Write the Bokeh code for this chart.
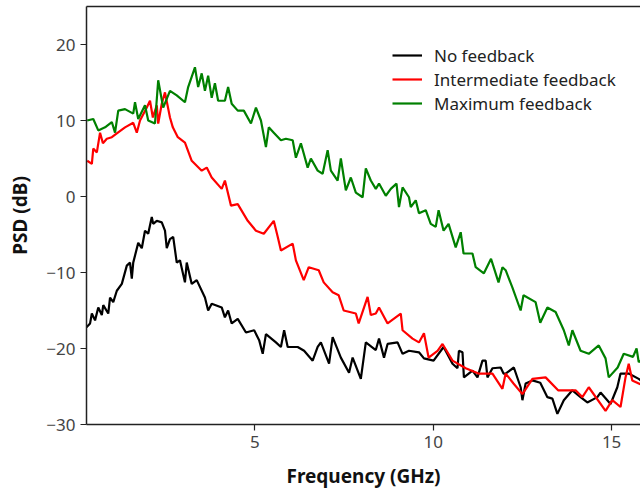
from bokeh.plotting import figure
from bokeh.models import LinearAxis, Legend, LegendItem, FixedTicker, Range1d
from bokeh.embed import file_html
from bokeh.resources import INLINE

# ---- data ----
black_x = [0.28, 0.38, 0.43, 0.52, 0.61, 0.71, 0.75, 0.89, 0.94, 1.03, 1.13, 1.27, 1.41, 1.50, 1.55, 1.59,
           1.73, 1.83, 1.92, 2.01, 2.11, 2.15, 2.25, 2.39, 2.48, 2.53, 2.62, 2.71, 2.81, 2.90, 3.04, 3.09,
           3.23, 3.37, 3.60, 3.69, 3.79, 4.07, 4.16, 4.25, 4.35, 4.52, 4.75, 4.98, 5.12, 5.22, 5.31, 5.59,
           5.73, 5.82, 5.92, 6.20, 6.38, 6.62, 6.76, 6.85, 7.08, 7.18, 7.41, 7.64, 7.74, 7.97, 8.11, 8.39,
           8.48, 8.62, 8.72, 9.00, 9.14, 9.32, 9.60, 9.74, 10.01, 10.29, 10.54, 10.68, 10.72, 10.82, 10.86,
           11.10, 11.24, 11.38, 11.47, 11.52, 11.66, 11.89, 11.97, 12.03, 12.26, 12.45, 12.50, 12.59, 12.78,
           13.00, 13.20, 13.34, 13.48, 13.66, 13.90, 14.13, 14.32, 14.60, 14.69, 14.97, 15.16, 15.25, 15.48,
           15.76, 15.85]
black_y = [-17.2, -16.7, -15.4, -16.3, -14.6, -15.6, -14.3, -15.4, -13.3, -13.9, -12.4, -11.5, -9.1, -8.7, -10.8, -8.7,
           -6.1, -6.8, -4.5, -4.9, -2.7, -3.6, -3.2, -3.4, -4.5, -6.8, -5.6, -5.3, -8.7, -8.4, -11.3, -8.7,
           -11.5, -11.0, -13.3, -15.0, -14.1, -14.6, -15.9, -15.0, -16.7, -16.1, -17.9, -17.6, -18.9, -20.7, -18.1, -19.2,
           -19.8, -17.6, -19.8, -19.8, -20.3, -21.6, -19.8, -19.2, -22.0, -18.5, -21.2, -23.2, -21.2, -24.0, -19.2, -20.2,
           -18.7, -21.2, -19.4, -19.2, -20.7, -20.3, -20.5, -21.3, -21.6, -19.8, -22.0, -22.6, -20.3, -20.5, -23.8,
           -22.9, -23.8, -21.6, -21.6, -23.8, -22.6, -22.5, -23.3, -23.3, -22.5, -25.1, -26.8, -24.6, -24.2,
           -24.5, -26.4, -26.6, -28.6, -26.8, -25.5, -26.4, -27.1, -26.4, -25.8, -27.3, -25.1, -23.3, -23.3,
           -24.0, -24.3]

red_x = [0.30, 0.43, 0.47, 0.57, 0.66, 0.74, 0.85, 0.99, 1.13, 1.36, 1.59, 1.69, 1.78, 1.97, 2.06, 2.14,
         2.25, 2.29, 2.39, 2.48, 2.62, 2.70, 2.84, 3.04, 3.23, 3.51, 3.65, 3.79, 4.07, 4.16, 4.33, 4.52,
         4.80, 5.03, 5.25, 5.53, 5.64, 5.73, 6.06, 6.15, 6.37, 6.51, 6.79, 6.93, 7.18, 7.35, 7.49, 7.83,
         7.91, 8.16, 8.25, 8.39, 8.48, 8.72, 9.09, 9.14, 9.42, 9.60, 9.74, 9.87, 10.12, 10.26, 10.54, 10.91,
         11.27, 11.66, 11.94, 12.03, 12.25, 12.50, 12.78, 13.15, 13.50, 13.99, 14.18, 14.36, 14.83, 15.02,
         15.25, 15.39, 15.48, 15.58, 15.76, 15.85]
red_y = [4.7, 4.3, 6.3, 5.8, 8.4, 7.0, 7.6, 7.8, 8.3, 9.1, 9.7, 8.4, 10.0, 11.7, 12.6, 10.4,
         12.0, 9.6, 12.2, 13.7, 10.4, 9.1, 7.8, 7.1, 4.7, 3.4, 3.8, 2.5, 1.0, 2.1, -1.2, -1.0,
         -3.2, -4.5, -4.9, -3.2, -5.3, -7.1, -6.2, -8.4, -11.0, -9.3, -9.7, -11.3, -12.6, -13.0, -15.0, -15.4,
         -16.7, -13.2, -15.6, -15.4, -14.6, -16.7, -15.4, -17.6, -18.7, -19.2, -18.0, -21.2, -20.3, -19.4, -21.6, -22.6,
         -23.3, -23.3, -25.3, -23.3, -24.6, -26.0, -24.0, -23.8, -25.5, -25.5, -26.4, -25.1, -28.2, -26.8,
         -27.7, -23.8, -22.0, -24.2, -24.6, -24.8]

green_x = [0.30, 0.47, 0.61, 0.80, 0.99, 1.08, 1.17, 1.36, 1.59, 1.64, 1.73, 1.92, 2.01, 2.20, 2.29, 2.43,
           2.62, 2.81, 3.04, 3.13, 3.32, 3.41, 3.51, 3.60, 3.69, 3.79, 3.88, 3.97, 4.16, 4.25, 4.35, 4.52,
           4.69, 4.89, 5.03, 5.17, 5.31, 5.39, 5.53, 5.73, 5.87, 6.06, 6.15, 6.29, 6.48, 6.57, 6.76, 6.90,
           7.04, 7.13, 7.32, 7.41, 7.55, 7.69, 7.83, 8.02, 8.11, 8.25, 8.39, 8.48, 8.67, 8.81, 8.97, 9.04,
           9.14, 9.32, 9.37, 9.51, 9.60, 9.79, 9.93, 10.07, 10.15, 10.29, 10.43, 10.63, 10.77, 10.85, 11.10,
           11.19, 11.42, 11.62, 11.83, 11.94, 12.03, 12.22, 12.45, 12.53, 12.87, 13.00, 13.20, 13.43, 13.66,
           13.80, 13.90, 14.13, 14.36, 14.64, 14.83, 14.92, 15.17, 15.34, 15.60, 15.70, 15.76, 15.85]
green_y = [10.0, 10.2, 8.7, 9.1, 9.8, 8.4, 11.3, 11.5, 10.9, 12.4, 10.2, 12.0, 10.0, 9.6, 15.3, 11.7,
           13.9, 13.3, 12.4, 14.4, 17.0, 14.4, 16.2, 13.9, 15.9, 13.0, 14.9, 12.6, 12.6, 14.4, 12.2, 11.3,
           11.3, 9.6, 11.7, 10.0, 6.5, 9.1, 8.4, 7.4, 7.6, 7.4, 5.1, 7.0, 3.8, 5.0, 3.4, 3.0,
           6.1, 3.4, 2.1, 5.0, 0.8, 2.5, 0.5, -0.1, 3.7, 2.1, 1.0, 1.7, 0.1, 1.0, 1.7, -1.4,
           1.2, -0.1, -1.4, -0.5, -2.2, -1.8, -3.6, -4.0, -1.8, -4.5, -3.6, -6.7, -4.7, -7.5, -7.5,
           -9.3, -10.1, -8.2, -11.3, -9.3, -9.7, -12.0, -15.0, -13.0, -13.9, -16.6, -14.6, -15.2, -17.6,
           -19.6, -17.6, -20.3, -20.7, -19.6, -21.3, -23.8, -22.5, -20.7, -21.1, -20.0, -21.8, -21.5]

series_names = ["No feedback", "Intermediate feedback", "Maximum feedback"]
x_ticks = [5, 10, 15]
y_ticks = [-30, -20, -10, 0, 10, 20]

FONT = "Noto Sans"

p = figure(width=640, height=494, output_backend="svg", toolbar_location=None,
           x_range=Range1d(0.28, 15.81), y_range=Range1d(-30, 25),
           min_border_left=86, min_border_right=0, min_border_top=6, min_border_bottom=70)
p.grid.visible = False
p.outline_line_color = None
p.background_fill_color = "white"
p.border_fill_color = "white"

r_black = p.line(black_x, black_y, line_color="black", line_width=2.2)
r_red = p.line(red_x, red_y, line_color="#ff0000", line_width=2.2)
r_green = p.line(green_x, green_y, line_color="#008000", line_width=2.2)

for ax in (p.xaxis[0], p.yaxis[0]):
    ax.axis_line_color = "#222222"
    ax.axis_line_width = 1.5
    ax.major_tick_line_color = "#222222"
    ax.major_tick_line_width = 1.2
    ax.major_tick_out = 6
    ax.major_tick_in = 0
    ax.minor_tick_line_color = None
    ax.major_label_text_font = FONT
    ax.major_label_text_font_size = "17px"
    ax.major_label_text_color = "#444444"
    ax.axis_label_text_font = FONT
    ax.axis_label_text_font_size = "19px"
    ax.axis_label_text_font_style = "bold"
    ax.axis_label_text_color = "#111111"

p.xaxis[0].ticker = FixedTicker(ticks=x_ticks)
p.yaxis[0].ticker = FixedTicker(ticks=y_ticks)
p.xaxis[0].axis_label = "Frequency (GHz)"
p.yaxis[0].axis_label = "PSD (dB)"
p.xaxis[0].major_label_standoff = 5
p.yaxis[0].major_label_standoff = 5
p.xaxis[0].axis_label_standoff = 12
p.yaxis[0].axis_label_standoff = 10

top = LinearAxis(ticker=FixedTicker(ticks=[]), axis_line_color="#222222", axis_line_width=1.5,
                 major_tick_line_color=None, minor_tick_line_color=None,
                 major_label_text_font_size="0px")
p.add_layout(top, "above")

legend = Legend(items=[LegendItem(label=series_names[0], renderers=[r_black]),
                       LegendItem(label=series_names[1], renderers=[r_red]),
                       LegendItem(label=series_names[2], renderers=[r_green])],
                location=(306, 309))
legend.border_line_color = None
legend.background_fill_alpha = 0
legend.label_text_font = FONT
legend.label_text_font_size = "17px"
legend.label_text_color = "#222222"
legend.glyph_width = 30
legend.glyph_height = 24
legend.label_height = 24
legend.label_standoff = 12
legend.spacing = 0
legend.padding = 0
legend.margin = 0
p.add_layout(legend, "center")

open("out.html", "w").write(file_html(p, INLINE))
